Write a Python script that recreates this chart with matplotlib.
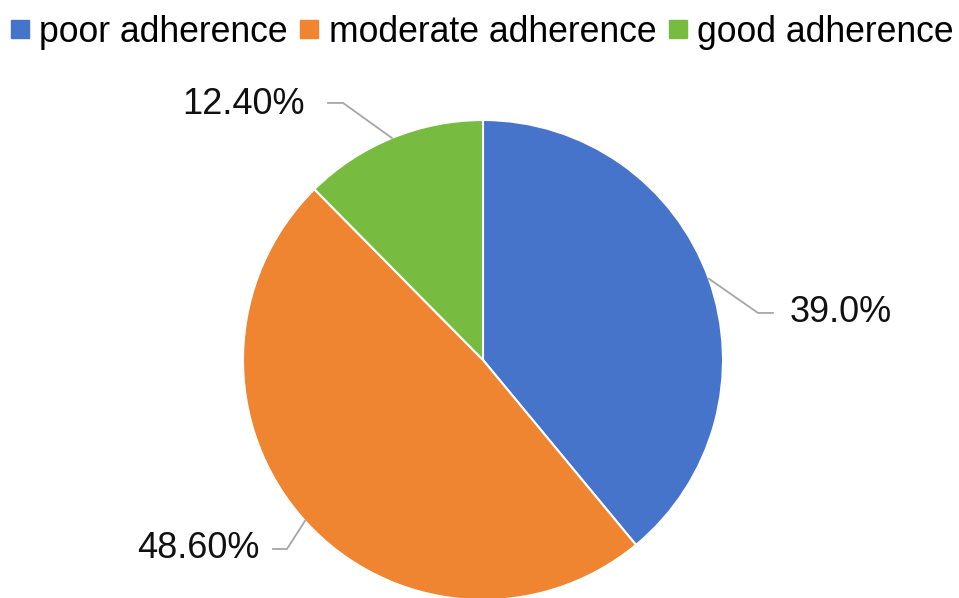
import numpy as np
import matplotlib
matplotlib.use("Agg")
import matplotlib.pyplot as plt
from matplotlib.lines import Line2D

plt.rcParams['font.family'] = ['Liberation Sans', 'DejaVu Sans']

# data
categories = ['poor adherence', 'moderate adherence', 'good adherence']
values = [39.0, 48.6, 12.4]
value_labels = ['39.0%', '48.60%', '12.40%']
colors = ['#4674CB', '#EF8431', '#77BC41']

fig = plt.figure(figsize=(9.59, 5.98), dpi=100)
ax = fig.add_axes([243 / 959, -2 / 598, 480 / 959, 480 / 598])

wedges, _ = ax.pie(values, colors=colors, startangle=90, counterclock=False,
                   radius=1, wedgeprops=dict(edgecolor='white', linewidth=1.5))
ax.set_xlim(-1, 1)
ax.set_ylim(-1, 1)
ax.set_aspect('equal')
ax.axis('off')

# leader line elbows / ends and text anchors (in pie radius units)
elbows = [(1.146, 0.196), (-0.817, -0.7875), (-0.583, 1.071)]
ends = [(1.208, 0.196), (-0.875, -0.7875), (-0.646, 1.071)]
text_pos = [(1.279, 0.2), (-0.93, -0.785), (-0.742, 1.065)]
aligns = ['left', 'right', 'right']

for w, el, en, tp, ha, lab in zip(wedges, elbows, ends, text_pos, aligns, value_labels):
    ang = np.deg2rad((w.theta1 + w.theta2) / 2)
    sx, sy = np.cos(ang), np.sin(ang)
    ax.plot([sx, el[0], en[0]], [sy, el[1], en[1]], color='#A6A6A6',
            linewidth=1.3, clip_on=False)
    ax.text(tp[0], tp[1], lab, ha=ha, va='center', fontsize=26, color='#111111',
            clip_on=False)

handles = [Line2D([], [], marker='s', linestyle='none', markersize=12.5,
                  markerfacecolor=c, markeredgecolor=c) for c in colors]
fig.legend(handles, categories, loc='upper center', bbox_to_anchor=(0.502, 1.017),
           ncol=3, frameon=False, fontsize=25.6, handlelength=0.6,
           handletextpad=0.25, columnspacing=0.3, borderpad=0.2)

fig.savefig('out.png', dpi=100)
